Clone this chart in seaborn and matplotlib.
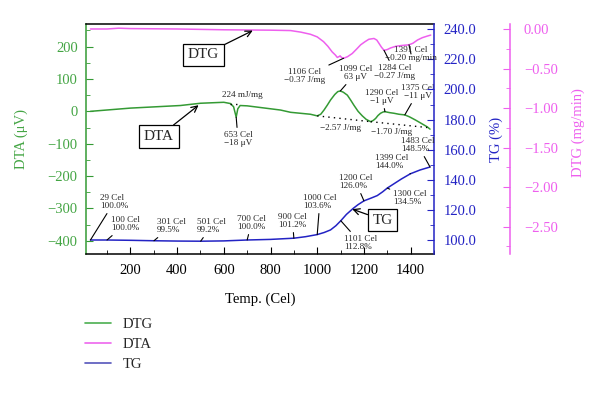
import numpy as np
import pandas as pd
import matplotlib
matplotlib.use("Agg")
import matplotlib.pyplot as plt
import seaborn as sns
from matplotlib.lines import Line2D
from matplotlib.ticker import MultipleLocator, FuncFormatter

# ---------------- data ----------------
dta_temp = [29, 200, 414, 500, 600, 629, 642, 653, 660, 670, 700, 843, 886, 971,
            1000, 1015, 1029, 1043, 1057, 1075, 1088, 1099, 1112, 1129, 1143, 1157,
            1175, 1193, 1210, 1229, 1240, 1250, 1260, 1271, 1282, 1290, 1310, 1329,
            1350, 1375, 1395, 1421, 1445, 1471, 1483]
dta_val = [0, 10, 18, 25, 28, 24, 14, -18, 8, 18, 17, 4, -3, -9,
           -14, -9, 4, 19, 35, 52, 61, 63, 59, 50, 35, 19,
           0, -14, -25, -32, -28, -22, -13, -6, -2, -1, -4, -6,
           -9, -11, -17, -27, -37, -48, -55]

dtg_temp = [29, 100, 150, 200, 400, 600, 800, 886, 930, 971, 1000, 1027, 1046, 1064,
            1078, 1086, 1093, 1098, 1104, 1113, 1130, 1150, 1170, 1186, 1205, 1221,
            1243, 1255, 1264, 1275, 1286, 1300, 1314, 1335, 1357, 1393, 1410, 1429,
            1450, 1471, 1486]
dtg_val = [0.0, 0.0, 0.01, 0.005, 0.0, -0.01, -0.015, -0.02, -0.04, -0.067, -0.10,
           -0.16, -0.22, -0.29, -0.33, -0.36, -0.35, -0.34, -0.36, -0.37, -0.35,
           -0.31, -0.25, -0.20, -0.16, -0.13, -0.12, -0.14, -0.18, -0.23, -0.27,
           -0.26, -0.24, -0.22, -0.21, -0.20, -0.18, -0.14, -0.11, -0.09, -0.077]

tg_temp = [29, 100, 200, 301, 400, 501, 600, 700, 800, 900, 950, 1000, 1030, 1057,
           1080, 1101, 1125, 1154, 1175, 1200, 1230, 1257, 1280, 1300, 1330, 1360,
           1399, 1440, 1483]
tg_val = [100.0, 100.0, 99.8, 99.5, 99.3, 99.2, 99.4, 100.0, 100.4, 101.2, 102.2,
          103.6, 105.0, 106.7, 109.5, 112.8, 117.0, 121.0, 123.5, 126.0, 127.8,
          129.5, 132.0, 134.5, 137.5, 140.5, 144.0, 146.5, 148.5]

# dotted DTA baselines
base1_temp = [1000, 1229]
base1_val = [-14, -32]
base2_temp = [1229, 1471]
base2_val = [-32, -50]
base3_temp = [625, 675]
base3_val = [24, 24]

temp_ticks = [200, 400, 600, 800, 1000, 1200, 1400]
dta_ticks = [-400, -300, -200, -100, 0, 100, 200]
tg_ticks = [100, 120, 140, 160, 180, 200, 220, 240]
dtg_ticks = [0.0, -0.5, -1.0, -1.5, -2.0, -2.5]

legend_labels = ["DTG", "DTA", "TG"]

# TG point annotations: (temp, value, label)
tg_notes = [(29, 100.0, "29 Cel\n100.0%"), (100, 100.0, "100 Cel\n100.0%"),
            (301, 99.5, "301 Cel\n99.5%"), (501, 99.2, "501 Cel\n99.2%"),
            (700, 100.0, "700 Cel\n100.0%"), (900, 101.2, "900 Cel\n101.2%"),
            (1000, 103.6, "1000 Cel\n103.6%"), (1101, 112.8, "1101 Cel\n112.8%"),
            (1200, 126.0, "1200 Cel\n126.0%"), (1300, 134.5, "1300 Cel\n134.5%"),
            (1399, 144.0, "1399 Cel\n144.0%"), (1483, 148.5, "1483 Cel\n148.5%")]
tg_note_pos = [(100, 202), (111, 224), (157, 226), (197, 226), (237, 223), (278, 221),
               (303, 202), (344, 243), (339, 182), (393, 198), (375, 162), (401, 145)]

dta_notes = [(653, -18, "653 Cel\n\u221218 \u03bcV"), (1099, 63, "1099 Cel\n63 \u03bcV"),
             (1290, -1, "1290 Cel\n\u22121 \u03bcV"), (1375, -11, "1375 Cel\n\u221211 \u03bcV")]
dta_note_pos = [(238, 139), (356, 73), (382, 97), (418, 92)]

dtg_notes = [(1113, -0.37, "1106 Cel\n\u22120.37 J/mg"), (1286, -0.27, "1284 Cel\n\u22120.27 J/mg"),
             (1393, -0.20, "1391 Cel\n\u22120.20 mg/min")]
dtg_note_pos = [(305, 76), (395, 72), (411, 54)]

# ---------------- style ----------------
sns.set_style("ticks")
plt.rcParams["font.family"] = ["Liberation Serif", "DejaVu Serif"]

green = "#349a34"
green_t = "#44a544"
magenta = "#ee5fee"
blue = "#2323c4"
W, H = 600, 394

fig = plt.figure(figsize=(6, 3.94), dpi=100)
ax = fig.add_axes([86 / W, 1 - 254 / H, 348 / W, 230 / H])
ax2 = ax.twinx()
ax3 = ax.twinx()
ax3.spines["right"].set_position(("axes", (510 - 86) / 348))

df_dta = pd.DataFrame({"T": dta_temp, "v": dta_val})
df_dtg = pd.DataFrame({"T": dtg_temp, "v": dtg_val})
df_tg = pd.DataFrame({"T": tg_temp, "v": tg_val})

sns.lineplot(data=df_dta, x="T", y="v", ax=ax, color=green, lw=1.1, legend=False, estimator=None)
sns.lineplot(data=df_tg, x="T", y="v", ax=ax2, color=blue, lw=1.1, legend=False, estimator=None)
sns.lineplot(data=df_dtg, x="T", y="v", ax=ax3, color=magenta, lw=1.1, legend=False, estimator=None)

for bt, bv in [(base1_temp, base1_val), (base2_temp, base2_val), (base3_temp, base3_val)]:
    ax.plot(bt, bv, color="black", lw=1.0, ls=(0, (1, 3)))

ax.set_xlim(10, 1500)
ax.set_ylim(-441, 270)
ax2.set_ylim(90.7, 243.5)
ax3.set_ylim(-2.845, 0.063)

ax.set_xticks(temp_ticks)
ax.set_yticks(dta_ticks)
ax2.set_yticks(tg_ticks)
ax3.set_yticks(dtg_ticks)
ax.xaxis.set_minor_locator(MultipleLocator(100))
ax.yaxis.set_minor_locator(MultipleLocator(50))
ax2.yaxis.set_minor_locator(MultipleLocator(10))
ax3.yaxis.set_minor_locator(MultipleLocator(0.25))
ax.yaxis.set_major_formatter(FuncFormatter(lambda v, p: f"{v:.0f}".replace("-", "\u2212")))
ax2.yaxis.set_major_formatter(FuncFormatter(lambda v, p: f"{v:.1f}"))
ax3.yaxis.set_major_formatter(FuncFormatter(lambda v, p: f"{v:.2f}".replace("-", "\u2212")))

# spines
for s in ["left", "right", "top", "bottom"]:
    ax2.spines[s].set_visible(s == "right")
    ax3.spines[s].set_visible(s == "right")
ax.spines["right"].set_visible(False)
ax.spines["left"].set_color(green)
ax.spines["top"].set_color("black")
ax.spines["bottom"].set_color("black")
ax2.spines["right"].set_color(blue)
ax3.spines["right"].set_color(magenta)
for a in (ax, ax2, ax3):
    for s in a.spines.values():
        s.set_linewidth(1.1)

ax.tick_params(axis="x", which="both", direction="in", colors="black", labelsize=10.5, pad=7)
ax.tick_params(axis="x", which="major", length=5)
ax.tick_params(axis="x", which="minor", length=3)
ax.tick_params(axis="y", which="both", direction="in", colors=green, labelcolor=green_t, labelsize=10.5, pad=6)
ax.tick_params(axis="y", which="major", length=5)
ax.tick_params(axis="y", which="minor", length=3)
ax2.tick_params(axis="y", which="both", direction="in", colors=blue, labelsize=10.5, pad=7)
ax2.tick_params(axis="y", which="major", length=5)
ax2.tick_params(axis="y", which="minor", length=3)
ax3.tick_params(axis="y", which="both", direction="in", colors=magenta, labelsize=10.5, pad=10)
ax3.tick_params(axis="y", which="major", length=5)
ax3.tick_params(axis="y", which="minor", length=3)

ax.set_xlabel("Temp. (Cel)", fontsize=10.5, color="black")
ax.xaxis.set_label_coords(0.5, -(293 - 254) / 230)
ax.set_ylabel("DTA (\u03bcV)", fontsize=10.5, color=green_t)
ax.yaxis.set_label_coords((28 - 86) / 348, 0.5)
ax2.set_ylabel("TG (%)", fontsize=10.5, color=blue)
ax2.yaxis.set_label_coords((490 - 86) / 348, 0.5)
ax3.set_ylabel("DTG (mg/min)", fontsize=10.5, color=magenta)
ax3.yaxis.set_label_coords((572 - 86) / 348, 0.53)


def fp(x, y):
    return (x / W, 1 - y / H)


lp = dict(arrowstyle="-", color="black", lw=0.8, shrinkA=0, shrinkB=0)
nfs = 6.6

for (t, v, txt), (px, py) in zip(tg_notes, tg_note_pos):
    ax2.annotate(txt, xy=(t, v), xytext=fp(px, py), textcoords="figure fraction",
                 ha="left", va="center", fontsize=nfs, linespacing=1.1, arrowprops=lp)

for (t, v, txt), (px, py) in zip(dta_notes, dta_note_pos):
    ax.annotate(txt, xy=(t, v), xytext=fp(px, py), textcoords="figure fraction",
                ha="center", va="center", fontsize=nfs, linespacing=1.1,
                multialignment="center", arrowprops=lp)

for (t, v, txt), (px, py) in zip(dtg_notes, dtg_note_pos):
    ax3.annotate(txt, xy=(t, v), xytext=fp(px, py), textcoords="figure fraction",
                 ha="center", va="center", fontsize=nfs, linespacing=1.1,
                 multialignment="center", arrowprops=lp)

fig.text(*fp(242, 95), "224 mJ/mg", ha="center", va="center", fontsize=nfs)
fig.text(*fp(341, 128), "\u22122.57 J/mg", ha="center", va="center", fontsize=nfs)
fig.text(*fp(392, 132), "\u22121.70 J/mg", ha="center", va="center", fontsize=nfs)

# boxed curve labels
bx = dict(boxstyle="square,pad=0.3", fc="white", ec="black", lw=0.9)
ap = dict(arrowstyle="->", color="black", lw=0.9, shrinkA=0, shrinkB=0)
ax3.annotate("DTG", xy=(724, -0.02), xytext=fp(203.5, 55), textcoords="figure fraction",
             ha="center", va="center", fontsize=11, bbox=bx, arrowprops=ap)
ax.annotate("DTA", xy=(492, 19), xytext=fp(159, 136.5), textcoords="figure fraction",
            ha="center", va="center", fontsize=11, bbox=bx, arrowprops=ap)
ax2.annotate("TG", xy=(1150, 120.5), xytext=fp(382.7, 220), textcoords="figure fraction",
             ha="center", va="center", fontsize=11, bbox=bx, arrowprops=ap)

handles = [Line2D([], [], color=c, lw=1.2) for c in ["#4caf50", "#ee66ee", "#5555bb"]]
fig.legend(handles, legend_labels, loc="upper left", bbox_to_anchor=fp(72, 305),
           frameon=False, fontsize=10.5, handlelength=1.75, handletextpad=0.8,
           labelspacing=0.45, borderpad=0.4)

fig.savefig("out.png", dpi=100)
